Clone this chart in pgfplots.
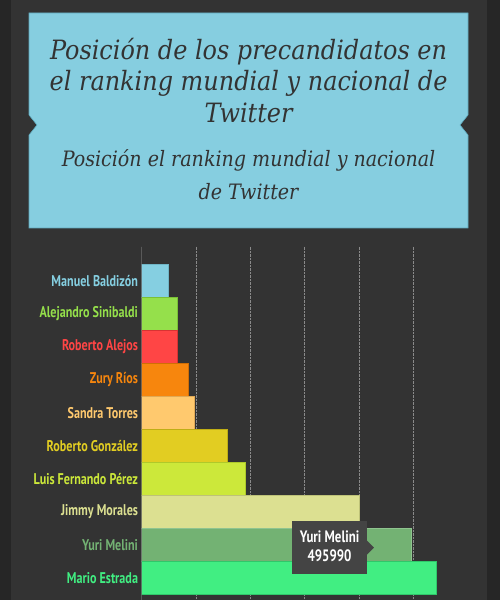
\documentclass[border=0pt]{standalone}
\usepackage{fontspec}
\usepackage{pgfplots}
\pgfplotsset{compat=1.18}
\setmainfont{Liberation Serif}
\newfontfamily\labelfont[FakeStretch=0.78]{PT Sans Bold}
\newfontfamily\titlefont{DejaVu Serif Condensed}

\definecolor{outerBg}{HTML}{262626}
\definecolor{panelBg}{HTML}{333333}
\definecolor{titleBox}{HTML}{86CEE0}
\definecolor{titleEdge}{HTML}{5FA9BC}
\definecolor{titleText}{HTML}{333333}
\definecolor{gridGray}{HTML}{8A8A8A}
\definecolor{tipBg}{HTML}{444444}

\definecolor{cA}{HTML}{85CFE1}\definecolor{bA}{HTML}{6FB5C6}
\definecolor{cB}{HTML}{95E04B}\definecolor{bB}{HTML}{7AC036}
\definecolor{cC}{HTML}{FF4545}\definecolor{bC}{HTML}{D83333}
\definecolor{cD}{HTML}{F7860D}\definecolor{bD}{HTML}{D06E05}
\definecolor{cE}{HTML}{FFC96E}\definecolor{bE}{HTML}{E0A955}
\definecolor{cF}{HTML}{E2CD22}\definecolor{bF}{HTML}{C0AE15}
\definecolor{cG}{HTML}{CCE83A}\definecolor{bG}{HTML}{AFC92A}
\definecolor{cH}{HTML}{DCE091}\definecolor{bH}{HTML}{BEC278}
\definecolor{cI}{HTML}{73B273}\definecolor{bI}{HTML}{8FC48F}
\definecolor{cJ}{HTML}{41EE82}\definecolor{bJ}{HTML}{2FC86A}

\begin{document}
\begin{tikzpicture}
\clip (0,0) rectangle (500bp,600bp);
\fill[outerBg] (0,0) rectangle (500bp,600bp);
\fill[panelBg] (11bp,0) rectangle (487bp,600bp);

% title box with side notches
\filldraw[fill=titleBox, draw=titleEdge, line width=0.6bp]
  (29bp,587bp) -- (468bp,587bp) -- (468bp,485bp) -- (460bp,475bp)
  -- (468bp,465bp) -- (468bp,372bp) -- (29bp,372bp) -- (29bp,465bp)
  -- (37bp,475bp) -- (29bp,485bp) -- cycle;
\begin{scope}[every node/.style={anchor=base, inner sep=0pt, text=titleText,
    font=\titlefont\itshape\fontsize{26.6bp}{32bp}\selectfont}]
  \node at (248.5bp,540.7bp) {Posición de los precandidatos en};
  \node at (248.5bp,509.3bp) {el ranking mundial y nacional de};
  \node at (248.5bp,477bp) {Twitter};
\end{scope}
\begin{scope}[every node/.style={anchor=base, inner sep=0pt, text=titleText,
    font=\titlefont\itshape\fontsize{21.2bp}{24bp}\selectfont}]
  \node at (248.5bp,433.3bp) {Posición el ranking mundial y nacional};
  \node at (248.5bp,400.7bp) {de Twitter};
\end{scope}

\begin{axis}[
    at={(141.7bp,353.3bp)}, anchor=north west,
    scale only axis,
    width=320.3bp, height=353.4bp,
    xmin=0, xmax=590000,
    ymin=-1.03, ymax=9.68,
    y dir=reverse,
    axis line style={draw=none},
    major tick length=0pt,
    xtick={100000,200000,300000,400000,500000},
    xticklabels={},
    xmajorgrids,
    major grid style={densely dotted, gridGray, line width=0.7bp},
    ytick={0,...,9},
    yticklabels={
      \textcolor{cA}{Manuel Baldizón},
      \textcolor{cB}{Alejandro Sinibaldi},
      \textcolor{cC}{Roberto Alejos},
      \textcolor{cD}{Zury Ríos},
      \textcolor{cE}{Sandra Torres},
      \textcolor{cF}{Roberto González},
      \textcolor{cG}{Luis Fernando Pérez},
      \textcolor{cH}{Jimmy Morales},
      \textcolor{cI}{Yuri Melini},
      \textcolor{cJ}{Mario Estrada}},
    yticklabel style={font=\labelfont\fontsize{15.5bp}{16bp}\selectfont,
      inner sep=0pt, xshift=-3.5bp},
    every axis plot/.append style={xbar, bar width=1, line width=0.8bp},
]
\addplot[fill=cA, draw=bA] coordinates {(49000,0)};
\addplot[fill=cB, draw=bB] coordinates {(65600,1)};
\addplot[fill=cC, draw=bC] coordinates {(65000,2)};
\addplot[fill=cD, draw=bD] coordinates {(86600,3)};
\addplot[fill=cE, draw=bE] coordinates {(97000,4)};
\addplot[fill=cF, draw=bF] coordinates {(157700,5)};
\addplot[fill=cG, draw=bG] coordinates {(190900,6)};
\addplot[fill=cH, draw=bH] coordinates {(400900,7)};
\addplot[fill=cI, draw=bI] coordinates {(495990,8)};
\addplot[fill=cJ, draw=bJ] coordinates {(542700,9)};

\draw[gray!75, line width=0.8bp] (axis cs:0,-1.03) -- (axis cs:0,9.68);

% tooltip
\fill[tipBg] (axis cs:276850,7.28) rectangle (axis cs:415000,8.88);
\fill[tipBg] (axis cs:415000,7.88) -- (axis cs:427700,8.09) -- (axis cs:415000,8.30) -- cycle;
\node[anchor=base, inner sep=0pt, text=white,
  font=\labelfont\fontsize{16.5bp}{17bp}\selectfont]
  at (axis cs:346000,7.94) {Yuri Melini};
\node[anchor=base, inner sep=0pt, text=white,
  font=\labelfont\fontsize{16.5bp}{17bp}\selectfont]
  at (axis cs:346000,8.51) {495990};
\end{axis}
\end{tikzpicture}
\end{document}
